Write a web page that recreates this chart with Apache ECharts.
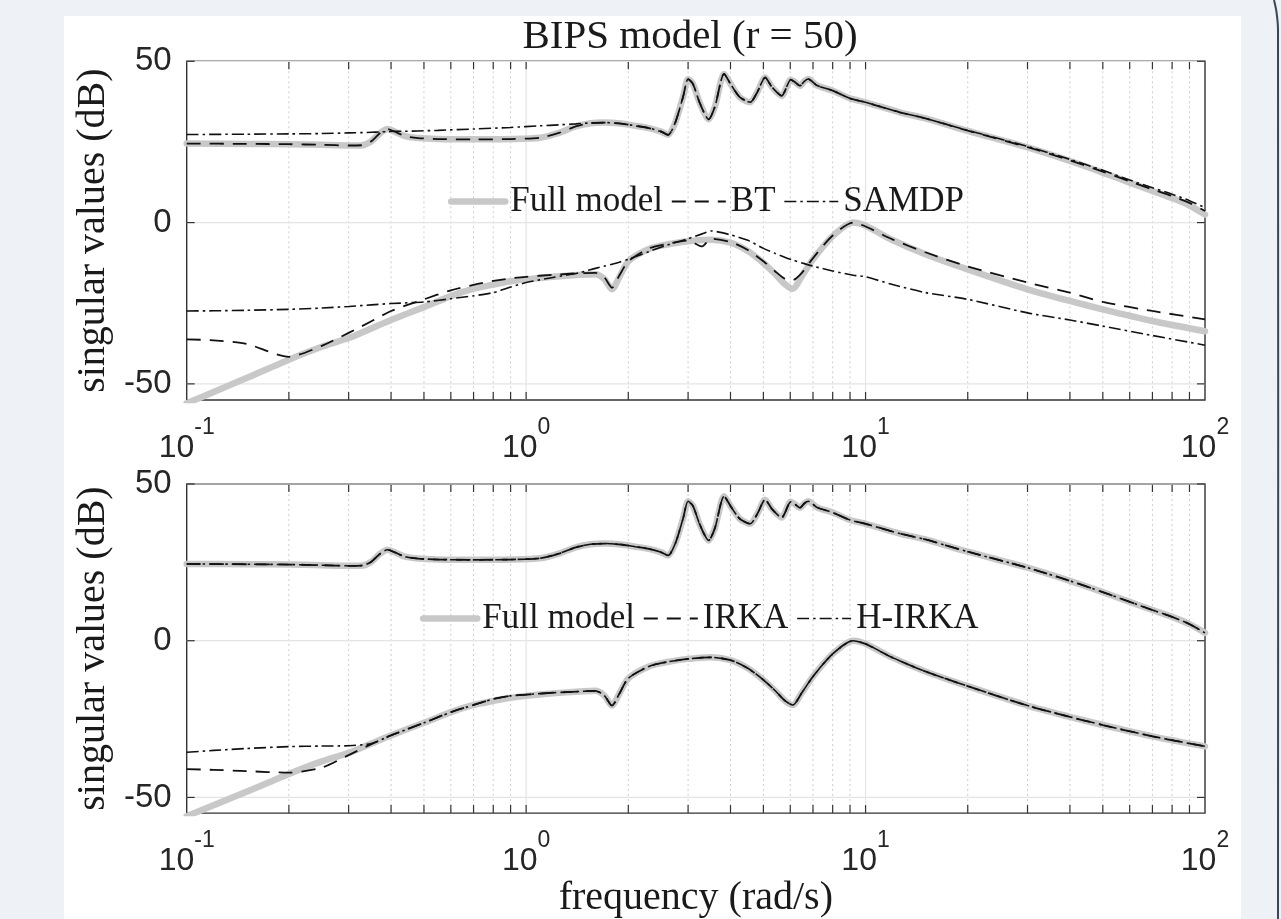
<!DOCTYPE html>
<html>
<head>
<meta charset="utf-8">
<title>BIPS model (r = 50)</title>
<script src="https://cdn.jsdelivr.net/npm/echarts@6/dist/echarts.min.js"></script>
<style>
  html, body { margin: 0; padding: 0; background: #eef1f6; }
  #chart { width: 1281px; height: 919px; }
</style>
</head>
<body>
<div id="chart"></div>
<script>
// frequency grid (rad/s) for the upper singular value
const freqUpper = [0.1, 0.15, 0.2, 0.25, 0.3, 0.33, 0.35, 0.37, 0.39, 0.41, 0.44, 0.48, 0.55, 0.7, 0.9,
  1.1, 1.25, 1.4, 1.55, 1.7, 1.9, 2.1, 2.3, 2.5, 2.62, 2.75, 2.9, 3.0, 3.1, 3.25, 3.45, 3.6, 3.83, 4.0,
  4.25, 4.57, 4.8, 5.06, 5.3, 5.66, 6.02, 6.2, 6.41, 6.6, 6.78, 7.2, 8, 9, 10, 12.6, 15, 20, 30, 40,
  50, 60, 70, 80, 90, 100];
const fullUpper = [24.5, 24.4, 24.3, 24.1, 23.9, 24.0, 25.2, 27.6, 29.0, 28.2, 26.8, 26.2, 25.9, 25.8, 25.9,
  26.3, 27.8, 29.8, 30.8, 31.0, 30.7, 30.0, 29.3, 28.2, 27.2, 31.0, 39.0, 44.5, 43.0, 37.0, 32.0, 36.0, 46.1, 43.0,
  39.0, 37.3, 40.5, 45.0, 42.0, 39.3, 44.3, 43.5, 42.4, 43.8, 44.5, 42.5, 40.9, 38.5, 37.3, 34.2, 32.3, 28.4, 23.3, 19.1,
  15.5, 12.4, 9.8, 7.6, 5.3, 2.5];
const btUpper = [24.5, 24.4, 24.3, 24.1, 23.9, 24.0, 25.2, 27.6, 29.0, 28.2, 26.8, 26.2, 25.9, 25.8, 25.9,
  26.3, 27.8, 29.8, 30.8, 31.0, 30.7, 30.0, 29.3, 28.2, 27.2, 31.0, 39.0, 44.5, 43.0, 37.0, 32.0, 36.0, 46.1, 43.0,
  39.0, 37.3, 40.5, 45.0, 42.0, 39.3, 44.3, 43.5, 42.4, 43.8, 44.5, 42.5, 40.9, 38.5, 37.3, 34.2, 32.3, 28.5, 23.4, 19.3,
  15.8, 12.8, 10.3, 8.2, 6.1, 3.6];
const samdpUpper = [27.3, 27.4, 27.5, 27.6, 27.8, 27.9, 28.0, 28.1, 28.2, 28.3, 28.3, 28.4, 28.6, 29.0, 29.5,
  30.0, 30.3, 30.6, 30.9, 31.0, 30.7, 30.0, 29.3, 28.2, 27.2, 31.0, 39.0, 44.5, 43.0, 37.0, 32.0, 36.0, 46.1, 43.0,
  39.0, 37.3, 40.5, 45.0, 42.0, 39.3, 44.3, 43.5, 42.4, 43.8, 44.5, 42.5, 40.9, 38.5, 37.3, 34.2, 32.3, 28.6, 23.6, 19.6,
  16.2, 13.2, 10.8, 8.8, 6.8, 4.6];

// frequency grid (rad/s) for the lower singular value
const freqLower = [0.1, 0.12, 0.15, 0.2, 0.25, 0.3, 0.35, 0.4, 0.5, 0.6, 0.7, 0.8, 0.9, 1.0, 1.2, 1.44,
  1.6, 1.7, 1.79, 1.88, 2.0, 2.3, 2.6, 3.0, 3.3, 3.5, 4.0, 4.5, 5.0, 5.4, 5.8, 6.1, 6.5, 7.0, 8.0, 9.2,
  10, 12, 15, 20, 30, 40, 50, 70, 100];
const fullLower = [-56, -52.5, -48.2, -42.5, -38.5, -35.8, -32.8, -30.2, -26.2, -22.8, -20.5, -19.2, -18.2, -17.6, -16.8, -16.2,
  -16.0, -17.5, -20.7, -17.0, -12.0, -8.2, -6.8, -5.8, -5.4, -5.3, -6.2, -8.8, -12.5, -15.8, -19.2, -20.5, -16.5, -11.4, -4.2, 0,
  -1.0, -5.4, -9.8, -14.5, -20.7, -24.3, -26.9, -30.5, -33.7];
const btLower = [-36.2, -36.5, -37.6, -41.6, -38.2, -34.2, -30.6, -27.4, -23.8, -21.0, -19.3, -18.1, -17.3, -16.8, -16.2, -15.7,
  -15.6, -17.0, -20.2, -16.5, -12.0, -8.0, -6.6, -5.6, -7.4, -5.0, -6.0, -8.5, -12.0, -15.0, -17.5, -17.8, -15.5, -11.0, -4.0, 0,
  -1.2, -5.2, -9.2, -13.6, -18.6, -21.7, -24.6, -27.4, -30.0];
const samdpLower = [-27.4, -27.35, -27.2, -26.9, -26.5, -26.0, -25.5, -25.1, -24.6, -23.6, -22.7, -21.7, -20.0, -18.6, -17.0, -15.5,
  -14.2, -13.5, -12.9, -12.3, -11.4, -9.0, -7.0, -5.0, -3.5, -2.6, -3.8, -5.5, -8.0, -9.5, -10.8, -11.6, -12.5, -13.5, -15.0, -16.3,
  -16.8, -19.2, -21.7, -23.8, -28.0, -30.2, -32.1, -35.0, -38.0];
const irkaLower = [-41.0, -41.2, -41.6, -42.1, -40.5, -36.5, -33.0, -30.2, -26.2, -22.8, -20.5, -18.6, -17.6, -17.2, -16.6, -16.2,
  -16.0, -17.5, -20.7, -17.0, -12.0, -8.2, -6.8, -5.8, -5.4, -5.3, -6.2, -8.8, -12.5, -15.8, -19.2, -20.5, -16.5, -11.4, -4.2, 0,
  -1.0, -5.4, -9.8, -14.5, -20.7, -24.3, -26.9, -30.5, -33.7];
const hirkaLower = [-35.6, -35.0, -34.4, -33.8, -33.6, -33.5, -32.8, -30.2, -26.2, -22.8, -20.5, -18.6, -17.6, -17.2, -16.6, -16.2,
  -16.0, -17.5, -20.7, -17.0, -12.0, -8.2, -6.8, -5.8, -5.4, -5.3, -6.2, -8.8, -12.5, -15.8, -19.2, -20.5, -16.5, -11.4, -4.2, 0,
  -1.0, -5.4, -9.8, -14.5, -20.7, -24.3, -26.9, -30.5, -33.7];

// axis ticks
const xMinorTicks = [0.2, 0.3, 0.4, 0.5, 0.6, 0.7, 0.8, 0.9, 2, 3, 4, 5, 6, 7, 8, 9, 20, 30, 40, 50, 60, 70, 80, 90];
const xMajorTicks = [1, 10];
const yTicks = [-50, 0, 50];

const serif = "'Liberation Serif', 'DejaVu Serif', serif";
const sans = "'Liberation Sans', Arial, sans-serif";
const TICK = 8;

function pairs(xs, ys) {
  return xs.map((x, i) => [x, ys[i]]);
}

function lineSeries(name, gi, xs, ys, kind) {
  let lineStyle;
  if (kind === 'full') {
    lineStyle = { color: '#c8c8c8', width: 6.5, cap: 'round', join: 'round' };
  } else if (kind === 'dash') {
    lineStyle = { color: '#111', width: 1.8, type: [14, 9] };
  } else {
    lineStyle = { color: '#111', width: 1.6, type: [12, 4, 2.5, 4] };
  }
  return {
    name: name,
    type: 'line',
    xAxisIndex: gi,
    yAxisIndex: gi,
    data: pairs(xs, ys),
    symbol: 'none',
    smooth: 0.25,
    silent: true,
    z: kind === 'full' ? 3 : (kind === 'dash' ? 4 : 5),
    itemStyle: { color: lineStyle.color },
    lineStyle: lineStyle,
  };
}

// grid lines and inward ticks, drawn through the axes' scales
function decorSeries(gi) {
  const items = [];
  xMinorTicks.forEach(f => items.push([f, 0, 0]));
  xMajorTicks.forEach(f => items.push([f, 0, 1]));
  yTicks.forEach(v => items.push([1, v, 2]));
  return {
    type: 'custom',
    xAxisIndex: gi,
    yAxisIndex: gi,
    silent: true,
    clip: false,
    z: 1,
    data: items,
    encode: { x: 0, y: 1 },
    renderItem: function (params, api) {
      const cs = params.coordSys;
      const kind = api.value(2);
      const children = [];
      const tickStyle = { stroke: '#333', lineWidth: 1.2 };
      if (kind === 2) {
        const y = api.coord([1, api.value(1)])[1];
        children.push({ type: 'line', shape: { x1: cs.x, y1: y, x2: cs.x + cs.width, y2: y },
          style: { stroke: '#e4e4e4', lineWidth: 1.2 } });
        children.push({ type: 'line', shape: { x1: cs.x, y1: y, x2: cs.x + TICK, y2: y }, style: tickStyle });
        children.push({ type: 'line', shape: { x1: cs.x + cs.width - TICK, y1: y, x2: cs.x + cs.width, y2: y }, style: tickStyle });
      } else {
        const x = api.coord([api.value(0), 0])[0];
        children.push({ type: 'line', shape: { x1: x, y1: cs.y, x2: x, y2: cs.y + cs.height },
          style: kind === 0 ? { stroke: '#cdcdcd', lineWidth: 1, lineDash: [2, 3] } : { stroke: '#e4e4e4', lineWidth: 1.2 } });
        children.push({ type: 'line', shape: { x1: x, y1: cs.y + cs.height - TICK, x2: x, y2: cs.y + cs.height }, style: tickStyle });
        children.push({ type: 'line', shape: { x1: x, y1: cs.y, x2: x, y2: cs.y + TICK }, style: tickStyle });
      }
      return { type: 'group', children: children };
    },
  };
}

function xAxisFor(gi, withName) {
  return {
    type: 'log',
    logBase: 10,
    gridIndex: gi,
    min: 0.1,
    max: 100,
    axisLine: { show: false },
    axisTick: { show: false },
    splitLine: { show: false },
    axisLabel: {
      margin: 16,
      formatter: function (v) {
        const e = Math.round(Math.log10(v));
        return '{b|10}{s|' + e + '}';
      },
      rich: {
        b: { fontFamily: sans, fontSize: 32, color: '#262626', lineHeight: 48, verticalAlign: 'bottom' },
        s: { fontFamily: sans, fontSize: 23, color: '#262626', lineHeight: 22, verticalAlign: 'top' },
      },
    },
    name: withName ? 'frequency (rad/s)' : '',
    nameLocation: 'middle',
    nameGap: 55,
    nameTextStyle: { fontFamily: serif, fontSize: 40, color: '#1a1a1a' },
  };
}

function yAxisFor(gi) {
  return {
    type: 'value',
    gridIndex: gi,
    min: -55,
    max: 50,
    interval: 5,
    axisLine: { show: false },
    axisTick: { show: false },
    splitLine: { show: false },
    axisLabel: {
      margin: 15,
      fontFamily: sans,
      fontSize: 33,
      color: '#262626',
      formatter: v => (v % 50 === 0 ? String(v) : ''),
    },
    name: 'singular values (dB)',
    nameLocation: 'middle',
    nameGap: 71,
    nameTextStyle: { fontFamily: serif, fontSize: 40, color: '#1a1a1a' },
  };
}

function legendFor(names, left, top) {
  return {
    data: names,
    left: left,
    top: top,
    orient: 'horizontal',
    itemWidth: 54,
    itemHeight: 12,
    itemGap: 8,
    selectedMode: false,
    itemStyle: { opacity: 0 },
    lineStyle: { width: 'inherit' },
    textStyle: { fontFamily: serif, fontSize: 35, color: '#1a1a1a' },
  };
}

const chart = echarts.init(document.getElementById('chart'));
const option = {
  backgroundColor: '#eef1f6',
  animation: false,
  graphic: [
    { type: 'rect', z: -100, shape: { x: 64, y: 16, width: 1177, height: 903 }, style: { fill: '#ffffff' } },
    { type: 'polyline', z: -100, shape: { points: [[1274, 0], [1276.5, 12], [1278, 30], [1278, 919]], smooth: 0.3 },
      style: { stroke: '#3a4656', lineWidth: 2, fill: null } },
    { type: 'text', z: 10, x: 690, y: 37,
      style: { text: 'BIPS model (r = 50)', fontFamily: serif, fontSize: 41, fill: '#1a1a1a', align: 'center', verticalAlign: 'middle' } },
  ],
  grid: [
    { left: 186.7, top: 61.3, width: 1018.3, height: 338.7, show: true, backgroundColor: 'transparent', borderColor: '#333', borderWidth: 1.4 },
    { left: 186.7, top: 484, width: 1018.3, height: 330.3, show: true, backgroundColor: 'transparent', borderColor: '#333', borderWidth: 1.4 },
  ],
  xAxis: [xAxisFor(0, false), xAxisFor(1, true)],
  yAxis: [yAxisFor(0), yAxisFor(1)],
  legend: [
    legendFor(['Full model', 'BT', 'SAMDP'], 443, 179),
    legendFor(['Full model', 'IRKA', 'H-IRKA'], 415, 596),
  ],
  series: [
    decorSeries(0),
    decorSeries(1),
    lineSeries('Full model', 0, freqUpper, fullUpper, 'full'),
    lineSeries('Full model', 0, freqLower, fullLower, 'full'),
    lineSeries('BT', 0, freqUpper, btUpper, 'dash'),
    lineSeries('BT', 0, freqLower, btLower, 'dash'),
    lineSeries('SAMDP', 0, freqUpper, samdpUpper, 'dashdot'),
    lineSeries('SAMDP', 0, freqLower, samdpLower, 'dashdot'),
    lineSeries('Full model', 1, freqUpper, fullUpper, 'full'),
    lineSeries('Full model', 1, freqLower, fullLower, 'full'),
    lineSeries('IRKA', 1, freqUpper, fullUpper, 'dash'),
    lineSeries('IRKA', 1, freqLower, irkaLower, 'dash'),
    lineSeries('H-IRKA', 1, freqUpper, fullUpper, 'dashdot'),
    lineSeries('H-IRKA', 1, freqLower, hirkaLower, 'dashdot'),
  ],
};
chart.setOption(option);
</script>
</body>
</html>
